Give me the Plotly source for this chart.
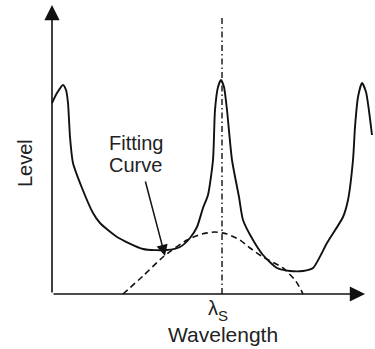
import plotly.graph_objects as go

# Measured spectrum (arbitrary units: wavelength position, level)
spectrum_x = [0, 5, 11, 14, 16, 18, 21, 30, 41, 48, 65, 91, 115, 128, 138, 145, 151,
              156, 161, 163, 166, 169, 172, 175, 180, 187, 191, 201, 211, 225, 238,
              251, 261, 275, 291, 296, 301, 303, 306, 310, 314, 320]
spectrum_y = [191, 201, 209, 204, 191, 157, 131, 106, 81, 71, 57, 45, 44, 47, 56, 67, 86,
              99, 134, 184, 207, 214, 207, 184, 134, 97, 74, 54, 39, 26, 23,
              23, 26, 51, 77, 94, 134, 167, 197, 211, 202, 159]

# Fitting curve
fit_x = [71, 91, 111, 135, 150, 163, 175, 188, 198, 211, 231, 243, 248, 251]
fit_y = [0, 18, 37, 54, 60, 62, 60, 54, 46, 37, 26, 14, 6, 0]

lambda_s = 170          # signal wavelength position
axis_x_max = 313
axis_y_max = 289

FONT = "Liberation Sans, Arial, sans-serif"
INK = "#111111"
TXT = "#222222"

fig = go.Figure()

fig.add_trace(go.Scatter(x=fit_x, y=fit_y, mode="lines",
                         line=dict(color=INK, width=1.6, dash="6px,4px", shape="spline", smoothing=0.6),
                         hoverinfo="skip", showlegend=False))
fig.add_trace(go.Scatter(x=spectrum_x, y=spectrum_y, mode="lines",
                         line=dict(color=INK, width=1.9, shape="spline", smoothing=0.6),
                         hoverinfo="skip", showlegend=False))
fig.add_trace(go.Scatter(x=[lambda_s, lambda_s], y=[0, 277], mode="lines",
                         line=dict(color=INK, width=1.4, dash="6px,3px,1.5px,3px"),
                         hoverinfo="skip", showlegend=False))

annotations = [
    # axes with arrows
    dict(x=0, y=axis_y_max, ax=0, ay=0, axref="x", ayref="y", xref="x", yref="y",
         text="", showarrow=True, arrowhead=2, arrowsize=1.9, arrowwidth=1.6, arrowcolor=INK),
    dict(x=axis_x_max, y=0, ax=0, ay=0, axref="x", ayref="y", xref="x", yref="y",
         text="", showarrow=True, arrowhead=2, arrowsize=1.9, arrowwidth=1.6, arrowcolor=INK),
    # fitting curve pointer
    dict(x=113, y=38, ax=93, ay=114, axref="x", ayref="y", xref="x", yref="y",
         text="", showarrow=True, arrowhead=2, arrowsize=1.5, arrowwidth=1.5, arrowcolor=INK),
    dict(x=55, y=151, xref="x", yref="y", text="Fitting", showarrow=False,
         xanchor="left", yanchor="middle",
         font=dict(family=FONT, size=20, color=TXT)),
    dict(x=55, y=129, xref="x", yref="y", text="Curve", showarrow=False,
         xanchor="left", yanchor="middle",
         font=dict(family=FONT, size=20, color=TXT)),
    # axis labels
    dict(x=-27, y=131, xref="x", yref="y", text="Level", showarrow=False, textangle=-90,
         font=dict(family=FONT, size=20, color=TXT)),
    dict(x=lambda_s - 9, y=-14, xref="x", yref="y", text="λ", showarrow=False,
         yanchor="middle", font=dict(family=FONT, size=20, color=TXT)),
    dict(x=lambda_s + 0.5, y=-21, xref="x", yref="y", text="S", showarrow=False,
         yanchor="middle", font=dict(family=FONT, size=15, color=TXT)),
    dict(x=171, y=-40, xref="x", yref="y", text="Wavelength", showarrow=False,
         yanchor="middle", font=dict(family=FONT, size=21, color=TXT)),
]

fig.update_layout(
    width=375, height=349, autosize=False,
    margin=dict(l=0, r=0, t=0, b=0),
    paper_bgcolor="white", plot_bgcolor="white",
    xaxis=dict(range=[-52, 323], visible=False, fixedrange=True),
    yaxis=dict(range=[-55, 294], visible=False, fixedrange=True),
    annotations=annotations,
)

fig.write_html("out.html", config={"displayModeBar": False},
               post_script="document.body.style.margin='0';")
